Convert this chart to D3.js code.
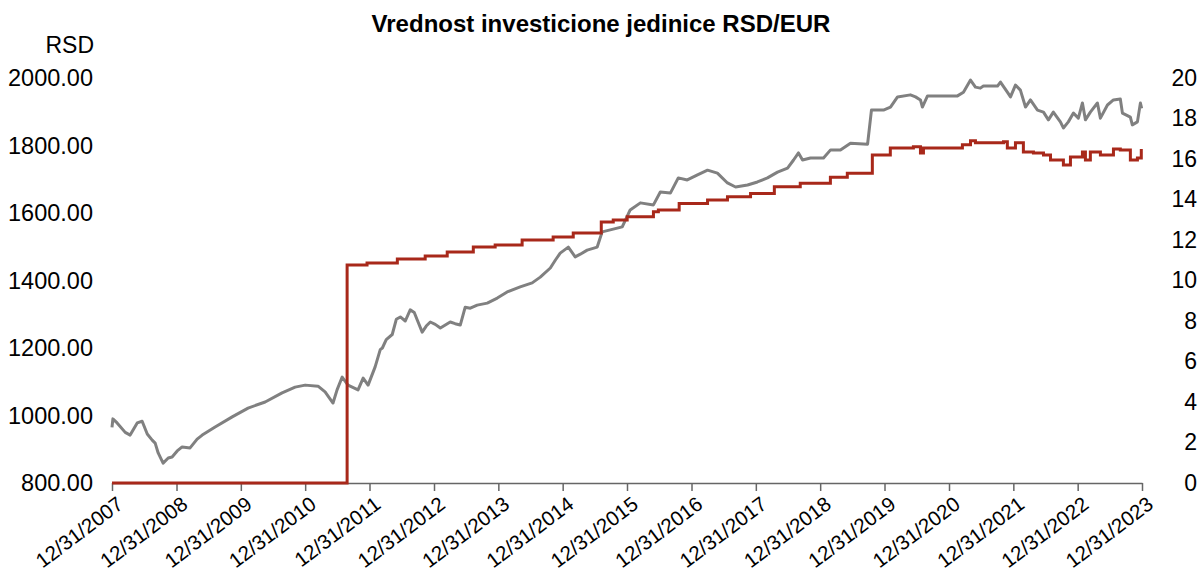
<!DOCTYPE html>
<html>
<head>
<meta charset="utf-8">
<script src="https://cdn.jsdelivr.net/npm/d3@7"></script>
<style>
  html, body { margin: 0; padding: 0; background: #fff; }
  svg { display: block; font-family: "Liberation Sans", Arial, Helvetica, sans-serif; }
</style>
</head>
<body>
<svg id="chart" width="1200" height="576"></svg>
<script>
const title = "Vrednost investicione jedinice RSD/EUR";
const leftUnit = "RSD";
const xTickDates = ["2007-12-31","2008-12-31","2009-12-31","2010-12-31","2011-12-31","2012-12-31","2013-12-31","2014-12-31","2015-12-31","2016-12-31","2017-12-31","2018-12-31","2019-12-31","2020-12-31","2021-12-31","2022-12-31","2023-12-31"];
const leftTicks = [800, 1000, 1200, 1400, 1600, 1800, 2000];
const rightTicks = [0, 2, 4, 6, 8, 10, 12, 14, 16, 18, 20];

// RSD value of the investment unit (left axis)
const rsdDates = ["2007-12-31","2008-01-05","2008-01-29","2008-03-15","2008-04-12","2008-05-22","2008-06-19","2008-07-18","2008-08-15","2008-09-01","2008-09-18","2008-10-16","2008-11-14","2008-12-06",
"2009-01-04","2009-02-01","2009-03-18","2009-04-27","2009-05-26","2009-08-07","2009-11-12",
"2010-02-10","2010-05-18","2010-08-22","2010-11-04","2010-12-31",
"2011-03-14","2011-04-23","2011-06-07","2011-06-30","2011-07-29","2011-08-31","2011-10-27","2011-11-25","2011-12-23",
"2012-02-01","2012-03-01","2012-03-13","2012-04-04","2012-05-08","2012-05-31","2012-06-23","2012-07-21","2012-08-18","2012-09-10","2012-09-27","2012-10-25","2012-11-17","2012-12-10",
"2013-01-07","2013-02-05","2013-03-05","2013-04-02","2013-04-30","2013-05-29","2013-06-26","2013-07-25","2013-09-02","2013-10-29","2013-12-25",
"2014-02-19","2014-05-04","2014-07-11","2014-08-26","2014-10-22","2014-11-19","2014-12-17",
"2015-02-01","2015-03-12","2015-04-10","2015-05-19","2015-07-15","2015-08-12","2015-09-27","2015-12-04",
"2016-01-18","2016-03-16","2016-05-29","2016-07-07","2016-09-02","2016-10-17","2016-12-07",
"2017-02-03","2017-04-01","2017-05-27","2017-07-23","2017-09-07","2017-11-14",
"2018-01-09","2018-03-07","2018-05-03","2018-06-29","2018-08-02","2018-08-30","2018-09-22","2018-11-06",
"2019-01-19","2019-02-28","2019-04-25","2019-06-21","2019-09-26","2019-10-18","2019-12-25",
"2020-02-03","2020-03-14","2020-05-26","2020-06-24","2020-07-22","2020-08-02","2020-08-31",
"2021-02-17","2021-03-23","2021-05-02","2021-05-30","2021-06-27","2021-07-14","2021-10-02","2021-10-19","2021-11-27","2021-12-15",
"2022-01-12","2022-02-09","2022-03-10","2022-04-07","2022-05-17","2022-06-20","2022-07-18","2022-08-15","2022-09-24","2022-10-11","2022-11-08","2022-12-07",
"2023-01-04","2023-01-27","2023-02-13","2023-03-13","2023-04-22","2023-05-09","2023-06-18","2023-07-22","2023-08-30","2023-09-11","2023-10-26","2023-11-06","2023-12-05","2023-12-22","2023-12-29"];
const rsdValues = [965,990,978,950,942,978,983,945,927,918,889,859,874,877,
895,907,904,930,942,966,996,
1022,1040,1067,1084,1090,
1087,1070,1037,1076,1114,1090,1076,1111,1090,
1144,1195,1200,1225,1240,1285,1292,1280,1313,1305,1283,1247,1265,1277,
1270,1259,1268,1277,1272,1268,1321,1318,1327,1333,1348,
1366,1381,1393,1410,1437,1460,1481,
1499,1470,1478,1490,1499,1544,1550,1559,
1609,1630,1624,1662,1659,1704,1698,
1713,1727,1718,1689,1677,1683,
1692,1704,1721,1733,1757,1778,1757,1763,
1763,1787,1787,1807,1804,1905,1905,
1914,1944,1950,1944,1935,1914,1947,
1947,1958,1994,1973,1970,1976,1976,1988,1958,1944,
1979,1964,1914,1935,1905,1899,1876,1899,1870,1852,1870,1896,
1881,1926,1876,1899,1926,1881,1920,1935,1938,1896,1884,1861,1870,1926,1910];

// EUR value of the investment unit (right axis)
const eurDates = ["2007-12-31","2011-08-26","2011-12-17","2012-06-06","2012-11-11","2013-03-16","2013-08-11","2013-12-13","2014-05-15","2014-11-07","2015-03-01","2015-08-07","2015-10-14",
"2016-01-01","2016-05-29","2016-06-26","2016-10-22","2017-04-01","2017-07-23","2017-12-01","2018-04-15","2018-09-09","2019-02-27","2019-06-03","2019-10-23",
"2020-02-02","2020-06-12","2020-07-22","2020-08-08","2021-03-17","2021-05-02","2021-05-30","2021-11-05","2021-11-27",
"2022-01-12","2022-02-26","2022-04-24","2022-06-20","2022-07-30","2022-10-11","2022-11-20",
"2023-01-27","2023-02-13","2023-03-13","2023-05-09","2023-07-22","2023-08-30","2023-10-26","2023-12-05","2023-12-27"];
const eurValues = [0,10.77,10.86,11.06,11.21,11.41,11.65,11.75,12.0,12.15,12.35,12.89,12.99,
13.15,13.4,13.48,13.8,13.97,14.13,14.3,14.63,14.8,15.1,15.3,16.2,
16.54,16.6,16.3,16.54,16.7,16.9,16.8,16.85,16.54,
16.8,16.35,16.3,16.2,15.95,15.7,16.1,
16.35,15.95,16.35,16.2,16.5,16.45,15.95,16.05,16.5];

const parse = d3.timeParse("%Y-%m-%d");
const fmtTick = d3.timeFormat("%m/%d/%Y");
const rsd = rsdDates.map((d, i) => ({date: parse(d), v: rsdValues[i]}));
const eur = eurDates.map((d, i) => ({date: parse(d), v: eurValues[i]}));

const svg = d3.select("#chart");
const x = d3.scaleTime()
  .domain([parse(xTickDates[0]), parse(xTickDates[xTickDates.length - 1])])
  .range([112, 1142]);
const yL = d3.scaleLinear().domain([800, 2000]).range([483, 78]);
const yR = d3.scaleLinear().domain([0, 20]).range([483, 78]);

// Title
svg.append("text")
  .attr("x", 601).attr("y", 32)
  .attr("text-anchor", "middle")
  .attr("font-weight", "bold")
  .attr("font-size", 24)
  .attr("fill", "#000")
  .text(title);

// Left unit label
svg.append("text")
  .attr("x", 94).attr("y", 53)
  .attr("text-anchor", "end")
  .attr("font-size", 23)
  .text(leftUnit);

// Left axis (labels only)
const gL = svg.append("g").attr("transform", "translate(93,0)")
  .call(d3.axisLeft(yL).tickValues(leftTicks).tickFormat(d3.format(".2f")).tickSize(0).tickPadding(0));
gL.select(".domain").remove();
gL.selectAll("text").attr("font-size", 23.5).attr("fill", "#000").attr("font-family", null);

// Right axis (labels only)
const gR = svg.append("g").attr("transform", "translate(1197,0)")
  .call(d3.axisLeft(yR).tickValues(rightTicks).tickFormat(d3.format("d")).tickSize(0).tickPadding(0));
gR.select(".domain").remove();
gR.selectAll("text").attr("font-size", 23).attr("fill", "#000").attr("font-family", null);

// Bottom axis
const gX = svg.append("g").attr("transform", "translate(0,483)")
  .call(d3.axisBottom(x).tickValues(xTickDates.map(parse)).tickFormat(fmtTick).tickSize(8).tickSizeOuter(0));
gX.select(".domain").attr("stroke", "#666").attr("stroke-width", 1.5);
gX.selectAll(".tick line").attr("stroke", "#666").attr("stroke-width", 1.5);
gX.selectAll("text")
  .attr("font-size", 20.5)
  .attr("font-family", null)
  .attr("fill", "#000")
  .attr("text-anchor", "end")
  .attr("dy", null)
  .attr("y", 0)
  .attr("transform", "translate(12,24) rotate(-37)");

// Lines
const lineL = d3.line().x(d => x(d.date)).y(d => yL(d.v)).curve(d3.curveLinear);
const lineR = d3.line().x(d => x(d.date)).y(d => yR(d.v)).curve(d3.curveStepAfter);

svg.append("path").datum(rsd)
  .attr("d", lineL)
  .attr("fill", "none")
  .attr("stroke", "#808080")
  .attr("stroke-width", 3)
  .attr("stroke-linejoin", "round");

svg.append("path").datum(eur)
  .attr("d", lineR)
  .attr("fill", "none")
  .attr("stroke", "#A8281A")
  .attr("stroke-width", 3)
  .attr("stroke-linejoin", "miter");
</script>
</body>
</html>
